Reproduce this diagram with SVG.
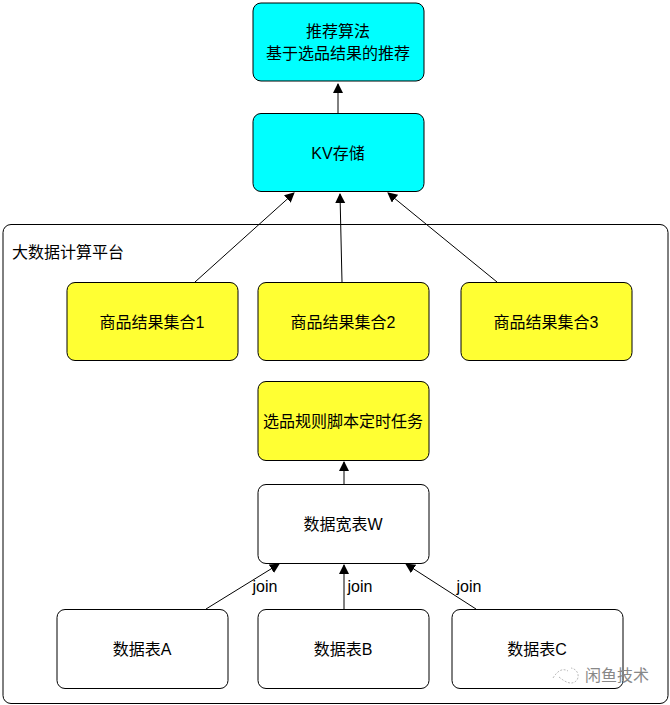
<svg xmlns="http://www.w3.org/2000/svg" width="670" height="705" viewBox="0 0 670 705">
<style>
text{font-family:"Liberation Sans","Noto Sans CJK SC",sans-serif;font-size:16px;fill:#000;text-anchor:middle}
.n{stroke:#000;stroke-width:1}
.c{fill:#00ffff}.y{fill:#ffff33}.w{fill:#fff}
.l{stroke:#000;stroke-width:1;fill:none;marker-end:url(#a)}
</style>
<defs><marker id="a" markerUnits="userSpaceOnUse" markerWidth="10" markerHeight="12" refX="9" refY="5" orient="auto"><path d="M0 0L10 5L0 10Z" fill="#000"/></marker></defs>
<rect width="670" height="705" fill="#fff"/>
<g id="platform"><rect class="n w" x="3" y="224.500" width="665" height="479" rx="8"/><text x="68" y="258">大数据计算平台</text></g>
<g id="connectors">
<path class="l" d="M338 113V84"/>
<path class="l" d="M195 282L294 193"/>
<path class="l" d="M342 282L340 194"/>
<path class="l" d="M497 282L388 193"/>
<path class="l" d="M344 484V462"/>
<path class="l" d="M206 609L279 564"/>
<path class="l" d="M344 609V565"/>
<path class="l" d="M476 609L406 564"/>
</g>
<g id="recommend"><rect class="n c" x="253" y="3" width="171" height="78" rx="8"/><text x="338" y="37">推荐算法</text><text x="338" y="59">基于选品结果的推荐</text></g>
<g id="kv"><rect class="n c" x="253" y="113.500" width="171" height="78" rx="8"/><text x="338" y="159">KV存储</text></g>
<g id="set1"><rect class="n y" x="67" y="282.500" width="171" height="78" rx="8"/><text x="152" y="328">商品结果集合1</text></g>
<g id="set2"><rect class="n y" x="258" y="282.500" width="171" height="78" rx="8"/><text x="343" y="328">商品结果集合2</text></g>
<g id="set3"><rect class="n y" x="461" y="282.500" width="171" height="78" rx="8"/><text x="546" y="328">商品结果集合3</text></g>
<g id="rules"><rect class="n y" x="258" y="381.500" width="171" height="79" rx="8"/><text x="343" y="427">选品规则脚本定时任务</text></g>
<g id="wide"><rect class="n w" x="258" y="484.500" width="171" height="79" rx="8"/><text x="343" y="530">数据宽表W</text></g>
<g id="tableA"><rect class="n w" x="57" y="609.500" width="171" height="79" rx="8"/><text x="142" y="655">数据表A</text></g>
<g id="tableB"><rect class="n w" x="258" y="609.500" width="171" height="79" rx="8"/><text x="343" y="655">数据表B</text></g>
<g id="tableC"><rect class="n w" x="452" y="609.500" width="171" height="79" rx="8"/><text x="537" y="655">数据表C</text></g>
<g id="labels"><text x="265" y="592">join</text><text x="360" y="592">join</text><text x="469" y="592">join</text></g>
<g id="watermark"><path d="M553 678C558 670 563 668 568 671M559 677C565 682 572 686 577 680C580 675 577 669 571 668" fill="none" stroke="#bbb" stroke-width="1" stroke-dasharray="2 1.500"/><text x="617" y="681" style="fill:#888">闲鱼技术</text></g>
</svg>
